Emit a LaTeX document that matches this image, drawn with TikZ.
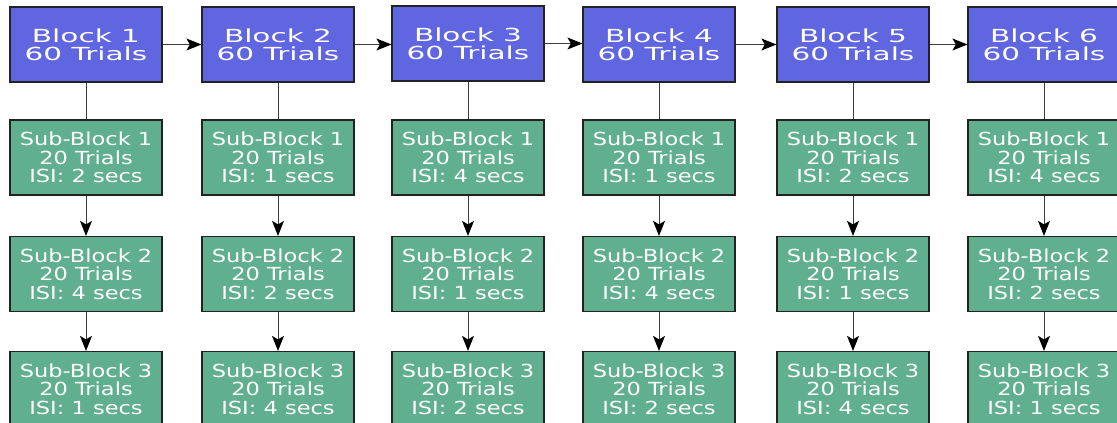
\documentclass[tikz,border=0pt]{standalone}
\usepackage{fontspec}
\usetikzlibrary{arrows.meta}
\newfontfamily\blockfont[FakeStretch=1.64]{DejaVu Sans}
\newfontfamily\subfont[FakeStretch=1.25]{DejaVu Sans}
\definecolor{blockblue}{RGB}{96,102,224}
\definecolor{subgreen}{RGB}{96,175,142}
\definecolor{edgegray}{RGB}{34,34,34}
\definecolor{linkgray}{RGB}{60,60,60}
\tikzset{
  box/.style={draw=edgegray, line width=1.2pt, minimum width=152pt, minimum height=75pt,
    inner sep=0pt, align=center, text=white},
  blockbox/.style={box, fill=blockblue, font=\blockfont\fontsize{18}{18.4}\selectfont},
  subbox/.style={box, fill=subgreen, font=\subfont\fontsize{18}{18.6}\selectfont},
  link/.style={draw=linkgray, line width=1pt},
  flow/.style={link, -{Stealth[length=15pt,width=12pt,inset=3.5pt,color=black]}}
}
\begin{document}
\begin{tikzpicture}[x=1pt,y=-1pt]
\useasboundingbox (0,0) rectangle (1117,423);

% top row: the six blocks
\node[blockbox] (b1) at (86,44.5)  {Block 1\\60 Trials};
\node[blockbox] (b2) at (278,44.5) {Block 2\\60 Trials};
\node[blockbox] (b3) at (468,43.5) {Block 3\\60 Trials};
\node[blockbox] (b4) at (659,44.5) {Block 4\\60 Trials};
\node[blockbox] (b5) at (853,44.5) {Block 5\\60 Trials};
\node[blockbox] (b6) at (1044,44.5) {Block 6\\60 Trials};

% sub-blocks under each block: ISI per sub-block
\foreach \c/\x/\ia/\ib/\ic in {1/86/2/4/1, 2/278/1/2/4, 3/468/4/1/2, 4/659/1/4/2, 5/853/2/1/4, 6/1044/4/2/1} {
  \node[subbox] (s\c a) at (\x,157.5) {Sub-Block 1\\20 Trials\\ISI: \ia\ secs};
  \node[subbox] (s\c b) at (\x,274)   {Sub-Block 2\\20 Trials\\ISI: \ib\ secs};
  \node[subbox] (s\c c) at (\x,389)   {Sub-Block 3\\20 Trials\\ISI: \ic\ secs};
}

% block sequence, kept level with the block it starts from
\draw[flow] (b1.east) -- (b1.east -| b2.west);
\draw[flow] (b2.east) -- (b2.east -| b3.west);
\draw[flow] (b3.east) -- (b3.east -| b4.west);
\draw[flow] (b4.east) -- (b4.east -| b5.west);
\draw[flow] (b5.east) -- (b5.east -| b6.west);

% each block splits into its sub-blocks
\foreach \c in {1,...,6} {
  \draw[link] (b\c.south) -- (s\c a.north);
  \draw[flow] (s\c a.south) -- (s\c b.north);
  \draw[flow] (s\c b.south) -- (s\c c.north);
}
\end{tikzpicture}
\end{document}
